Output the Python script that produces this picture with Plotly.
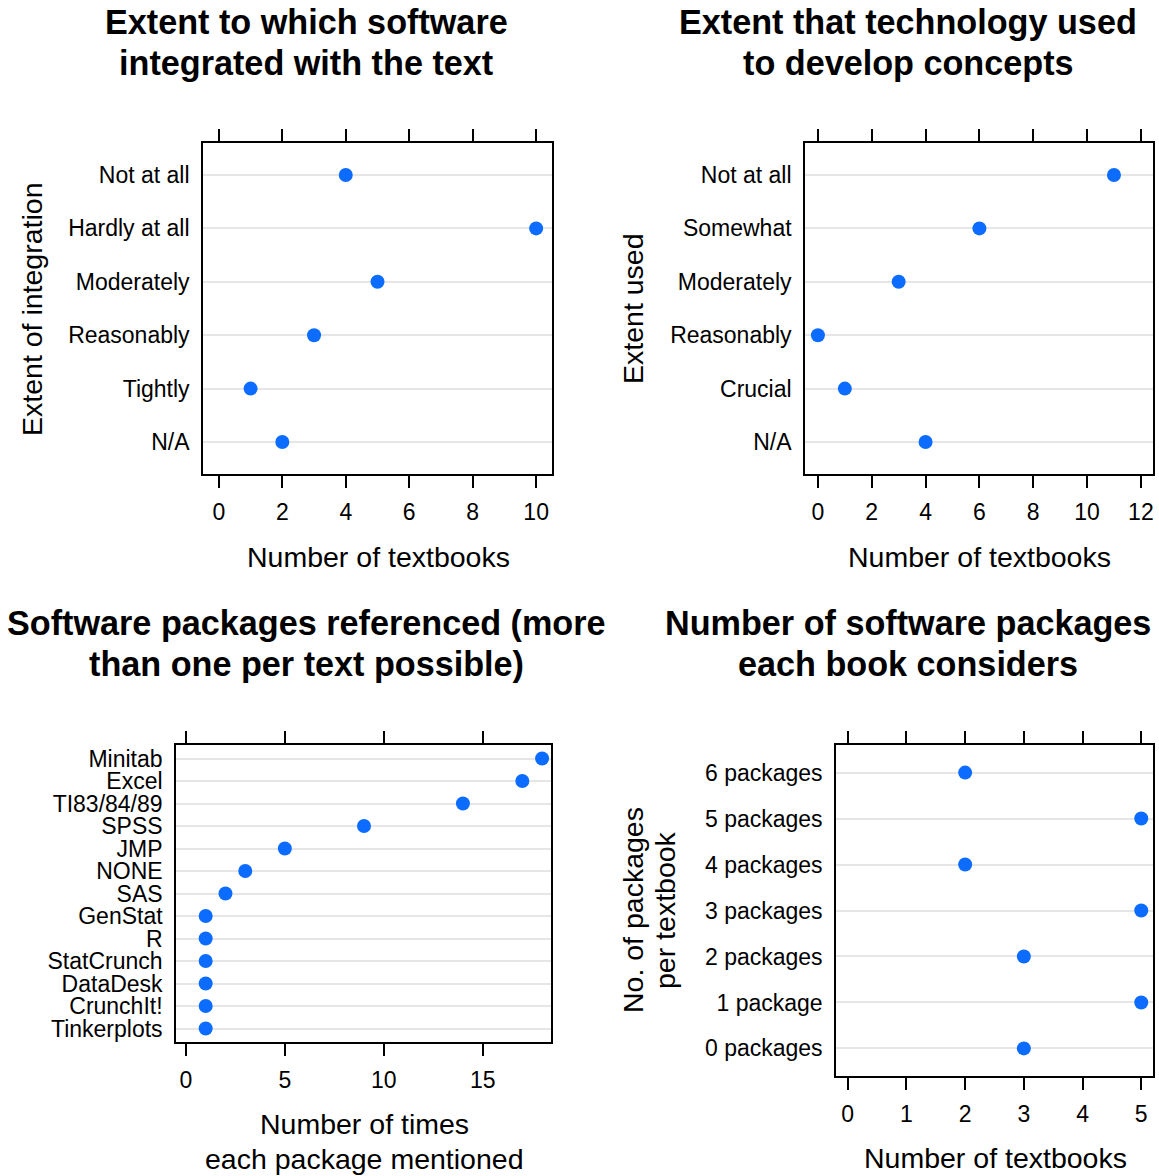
import plotly.graph_objects as go

W, H = 1159, 1176

# ---- data ----
p1_cats = ["Not at all", "Hardly at all", "Moderately", "Reasonably", "Tightly", "N/A"]
p1_vals = [4, 10, 5, 3, 1, 2]

p2_cats = ["Not at all", "Somewhat", "Moderately", "Reasonably", "Crucial", "N/A"]
p2_vals = [11, 6, 3, 0, 1, 4]

p3_cats = ["Minitab", "Excel", "TI83/84/89", "SPSS", "JMP", "NONE", "SAS",
           "GenStat", "R", "StatCrunch", "DataDesk", "CrunchIt!", "Tinkerplots"]
p3_vals = [18, 17, 14, 9, 5, 3, 2, 1, 1, 1, 1, 1, 1]

p4_cats = ["6 packages", "5 packages", "4 packages", "3 packages",
           "2 packages", "1 package", "0 packages"]
p4_vals = [2, 5, 2, 5, 3, 5, 3]

p1_ticks = [0, 2, 4, 6, 8, 10]
p2_ticks = [0, 2, 4, 6, 8, 10, 12]
p3_ticks = [0, 5, 10, 15]
p4_ticks = [0, 1, 2, 3, 4, 5]

titles = [["Extent to which software", "integrated with the text"],
          ["Extent that technology used", "to develop concepts"],
          ["Software packages referenced (more", "than one per text possible)"],
          ["Number of software packages", "each book considers"]]
xtitles = [["Number of textbooks"], ["Number of textbooks"],
           ["Number of times", "each package mentioned"], ["Number of textbooks"]]
ytitles = [["Extent of integration"], ["Extent used"], [], ["No. of packages", "per textbook"]]

# ---- layout geometry (pixels) ----
panels = [
    dict(box=(203, 552, 143, 474), xr=(-0.5, 10.5), cats=p1_cats, vals=p1_vals, ticks=p1_ticks,
         title_x=306, title_y=[22, 63], xt_x=378, xt_y=[557], yt_x=[32], yt_y=309),
    dict(box=(805, 1153, 143, 474), xr=(-0.48, 12.45), cats=p2_cats, vals=p2_vals, ticks=p2_ticks,
         title_x=908, title_y=[22, 63], xt_x=979, xt_y=[557], yt_x=[633], yt_y=309),
    dict(box=(176, 551, 745, 1042), xr=(-0.5, 18.45), cats=p3_cats, vals=p3_vals, ticks=p3_ticks,
         title_x=306, title_y=[623, 664], xt_x=364, xt_y=[1124, 1159], yt_x=[], yt_y=None),
    dict(box=(836, 1153, 745, 1076), xr=(-0.2, 5.2), cats=p4_cats, vals=p4_vals, ticks=p4_ticks,
         title_x=908, title_y=[623, 664], xt_x=995, xt_y=[1158], yt_x=[633, 665], yt_y=910),
]

FONT = "Liberation Sans, Arial, Helvetica, sans-serif"
BLUE = "#0b6cff"
TICK_SIZE = 23
TITLE_SIZE = 34.2
AXT_SIZE = 28.5

fig = go.Figure()
annotations = []
layout = {}


def ann(text, px, py, size, bold=False, angle=0):
    return dict(text=("<b>%s</b>" % text) if bold else text,
                x=px / W, y=1 - py / H, xref="paper", yref="paper",
                xanchor="center", yanchor="middle", showarrow=False,
                textangle=angle, font=dict(family=FONT, size=size, color="black"))


for i, p in enumerate(panels):
    n = i + 1
    xa = "xaxis" if n == 1 else f"xaxis{n}"
    ya = "yaxis" if n == 1 else f"yaxis{n}"
    xref = "x" if n == 1 else f"x{n}"
    yref = "y" if n == 1 else f"y{n}"
    x0, x1, y0, y1 = p["box"]
    m = len(p["cats"])
    ypos = list(range(1, m + 1))
    fig.add_trace(go.Scatter(
        x=p["vals"], y=ypos, mode="markers", xaxis=xref, yaxis=yref,
        marker=dict(color=BLUE, size=14, line=dict(width=0)),
        showlegend=False, hoverinfo="x+y", cliponaxis=False))
    layout[xa] = dict(
        domain=[x0 / W, x1 / W], anchor=yref, range=list(p["xr"]),
        tickmode="array", tickvals=p["ticks"], ticks="outside", ticklen=12,
        tickwidth=1.6, tickcolor="black", showline=True, linecolor="black",
        linewidth=1.6, mirror="ticks", showgrid=False, zeroline=False,
        tickfont=dict(family=FONT, size=TICK_SIZE, color="black"),
        ticklabelstandoff=5, fixedrange=True)
    layout[ya] = dict(
        domain=[1 - y1 / H, 1 - y0 / H], anchor=xref, range=[m + 0.6, 0.4],
        tickmode="array", tickvals=ypos, ticktext=p["cats"], ticks="",
        showline=True, linecolor="black", linewidth=1.6, mirror=True,
        showgrid=True, gridcolor="#e6e6e6", gridwidth=2, zeroline=False,
        tickfont=dict(family=FONT, size=TICK_SIZE, color="black"),
        ticklabelstandoff=7, fixedrange=True)
    for line, ty in zip(titles[i], p["title_y"]):
        annotations.append(ann(line, p["title_x"], ty, TITLE_SIZE, bold=True))
    for line, ty in zip(xtitles[i], p["xt_y"]):
        annotations.append(ann(line, p["xt_x"], ty, AXT_SIZE))
    for line, tx in zip(ytitles[i], p["yt_x"]):
        annotations.append(ann(line, tx, p["yt_y"], AXT_SIZE, angle=-90))

fig.update_layout(**layout)
fig.update_layout(
    width=W, height=H, margin=dict(l=0, r=0, t=0, b=0),
    paper_bgcolor="white", plot_bgcolor="white",
    annotations=annotations, showlegend=False)

fig.write_html("out.html", config={"displayModeBar": False, "staticPlot": False},
               post_script="document.body.style.margin='0';document.body.style.padding='0';"
                           "document.body.style.overflow='hidden';")
